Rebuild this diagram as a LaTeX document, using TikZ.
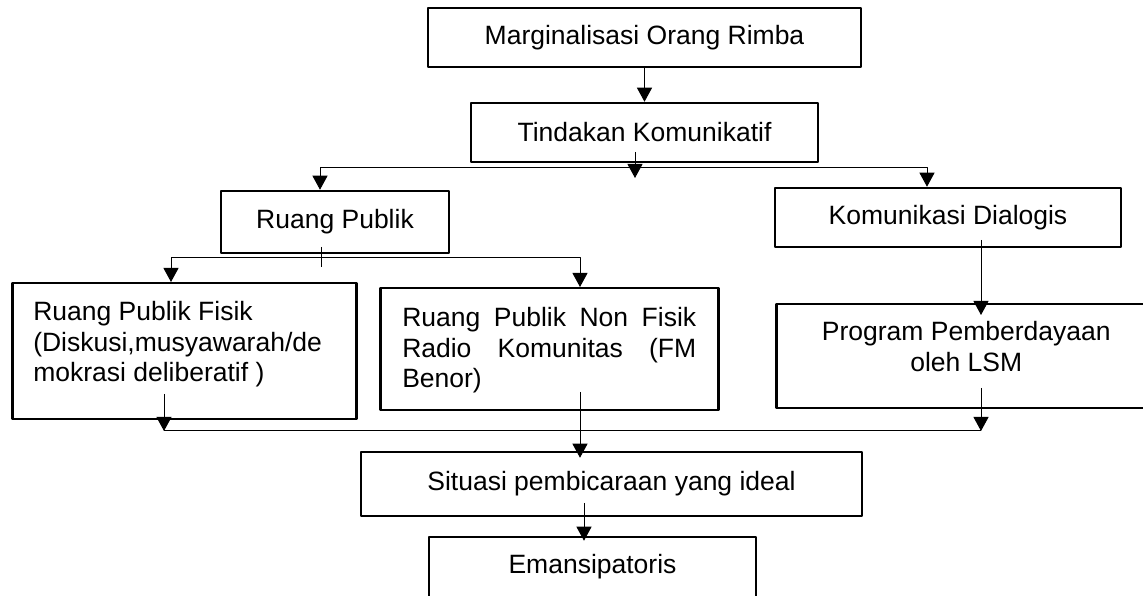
\documentclass[tikz,border=0pt]{standalone}
\usepackage{fontspec}
\setmainfont{Liberation Sans}
\usetikzlibrary{arrows.meta}
\begin{document}
\begin{tikzpicture}[>={Triangle[width=15bp,length=14bp]},line join=bevel,
  box/.style={draw,line width=2.5bp,inner sep=0pt},
  link/.style={black,line width=1bp},
  every node/.style={font=\fontsize{26.5bp}{30.5bp}\selectfont}]
\useasboundingbox (0bp,0bp) rectangle (1143bp,596bp);
%%
\node (marg) at (644.5bp,558.5bp) [box,minimum width=433bp,minimum height=59bp] {Marginalisasi Orang Rimba};
  \node (tind) at (644.5bp,463.5bp) [box,minimum width=347bp,minimum height=59bp] {Tindakan Komunikatif};
  \node (rp) at (335bp,374bp) [box,minimum width=228bp,minimum height=62bp] {Ruang Publik};
  \node (kd) at (948bp,378.5bp) [box,minimum width=346bp,minimum height=59bp] {Komunikasi Dialogis};
  \node (rpf) at (11bp,314bp) [box,anchor=north west,inner xsep=21bp,text height=37.5bp,text depth=98.5bp]
    {\parbox[t]{302bp}{\raggedright Ruang Publik Fisik\\(Diskusi,musyawarah/de\\mokrasi deliberatif )}};
  \node (rpnf) at (379bp,309bp) [box,anchor=north west,inner xsep=22bp,text height=38.5bp,text depth=83.5bp]
    {\parbox[t]{294bp}{\makebox[294bp][s]{Ruang Publik Non Fisik}\\\makebox[294bp][s]{Radio Komunitas (FM}\\Benor)}};
  \node (prog) at (775bp,293bp) [box,anchor=north west,inner xsep=21bp,text height=36.5bp,text depth=67.5bp]
    {\parbox[t]{338bp}{\centering Program Pemberdayaan\\oleh LSM}};
  \node (sit) at (611.5bp,112bp) [box,minimum width=501bp,minimum height=64bp] {Situasi pembicaraan yang ideal};
  \node (eman) at (592.5bp,29bp) [box,minimum width=327bp,minimum height=60bp] {Emansipatoris};
%
\coordinate (tind_in) at (635bp,444bp);
  \coordinate (tind_out) at (635bp,418bp);
  \coordinate (br_l) at (320bp,428bp);
  \coordinate (br_r) at (927bp,428bp);
  \coordinate (rp_in) at (321bp,349bp);
  \coordinate (rp_out) at (321bp,329bp);
  \coordinate (sub_l) at (171bp,338bp);
  \coordinate (sub_r) at (580bp,338bp);
  \coordinate (kd_in) at (981bp,356bp);
  \coordinate (rpf_in) at (164bp,202bp);
  \coordinate (prog_in) at (981bp,208bp);
  \coordinate (join_l) at (164bp,165bp);
  \coordinate (join_r) at (981bp,165bp);
  \coordinate (rpnf_in) at (580bp,204bp);
  \coordinate (sit_in) at (584bp,93bp);
%
\draw [link,->] (marg) -- (tind);
  \draw [link,->] (tind_in) -- (tind_out);
  \draw [link,<->] (br_l |- rp.north) -- (br_l) -- (br_r) -- (br_r |- kd.north);
  \draw [link] (rp_in) -- (rp_out);
  \draw [link,<->] (sub_l |- rpf.north) -- (sub_l) -- (sub_r) -- (sub_r |- rpnf.north);
  \draw [link,->,shorten >=-12bp] (kd_in) -- (kd_in |- prog.north);
  \draw [link,->] (rpf_in) -- (join_l);
  \draw [link,->] (prog_in) -- (join_r);
  \draw [link] (join_l) -- (join_r);
  \draw [link,->,shorten >=-7bp] (rpnf_in) -- (rpnf_in |- sit.north);
  \draw [link,->,shorten >=-5bp] (sit_in) -- (sit_in |- eman.north);
%
\end{tikzpicture}
\end{document}
